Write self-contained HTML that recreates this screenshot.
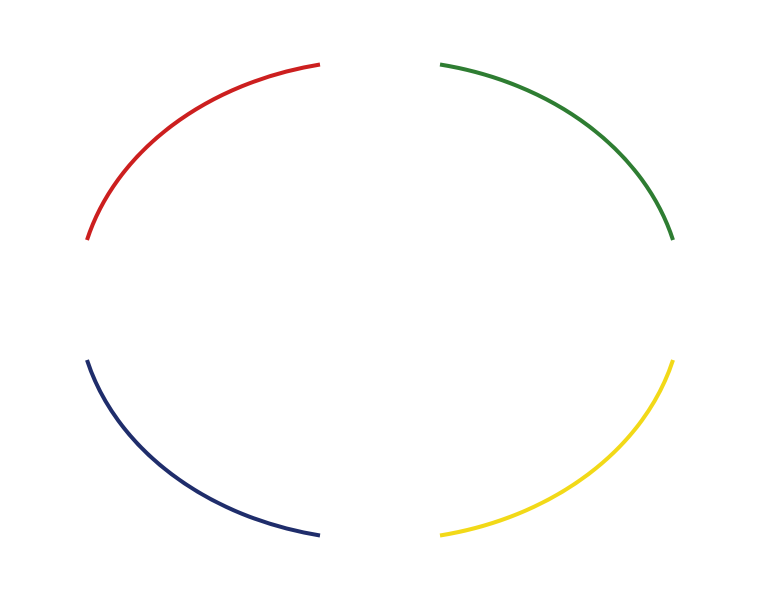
<!DOCTYPE html>
<html><head><meta charset="utf-8"><style>html,body{margin:0;padding:0;background:#fff}svg{display:block}</style></head>
<body>
<svg width="760" height="600" viewBox="0 0 760 600" xmlns="http://www.w3.org/2000/svg">
<g fill="none" stroke-width="4">
<path d="M320 64.5 A303 240 0 0 0 87 240" stroke="#cc1f1f"/>
<path d="M440 64.5 A303 240 0 0 1 673 240" stroke="#2e7d32"/>
<path d="M673 360 A303 240 0 0 1 440 535.5" stroke="#f2d918"/>
<path d="M87 360 A303 240 0 0 0 320 535.5" stroke="#1f2d6b"/>
</g>
</svg>
</body></html>
